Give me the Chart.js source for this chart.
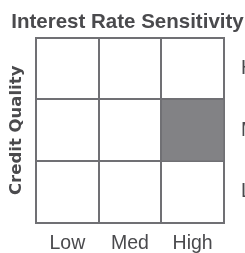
<!DOCTYPE html>
<html>
<head>
<meta charset="utf-8">
<script src="https://cdn.jsdelivr.net/npm/chart.js@4"></script>
<style>
  body { margin: 0; background: #fff; }
</style>
</head>
<body>
<canvas id="box" width="245" height="253"></canvas>
<script>
// style box: which row (0 = Low, 1 = Med, 2 = High credit quality) is filled in each column
const sensitivity = ['Low', 'Med', 'High'];
const quality = ['High', 'Med', 'Low'];
const filledRow = [null, null, 1];

const lineColor = '#707074';
const textColor = '#4a4a4d';
const font = "'Liberation Sans', Arial, sans-serif";

new Chart(document.getElementById('box').getContext('2d'), {
  type: 'bar',
  data: {
    labels: sensitivity,
    datasets: [{
      data: filledRow.map(r => r === null ? null : [r, r + 1]),
      backgroundColor: '#828285',
      borderColor: lineColor,
      borderWidth: 1,
      borderSkipped: false,
      barPercentage: 1,
      categoryPercentage: 1
    }]
  },
  options: {
    responsive: false,
    animation: false,
    layout: { padding: { left: 10 } },
    plugins: {
      legend: { display: false },
      tooltip: { enabled: false },
      title: {
        display: true,
        text: 'Interest Rate Sensitivity',
        color: textColor,
        font: { family: font, size: 20.5, weight: 'bold' },
        padding: { top: 10, bottom: 3 }
      }
    },
    scales: {
      x: {
        grid: { offset: true, drawTicks: false, color: lineColor, lineWidth: 2 },
        border: { color: lineColor, width: 2 },
        ticks: { color: textColor, font: { family: font, size: 19.5 }, padding: 9 },
        afterFit: s => { s.height = 30; }
      },
      y: {
        min: 0,
        max: 3,
        ticks: { stepSize: 1, display: false },
        grid: { drawTicks: false, color: lineColor, lineWidth: 2 },
        border: { color: lineColor, width: 2 },
        title: {
          display: true,
          text: 'Credit Quality',
          color: textColor,
          font: { family: "'DejaVu Sans', sans-serif", size: 16.5, weight: 'bold', lineHeight: 0.8 },
          padding: 0
        },
        afterFit: s => { s.width = 26; }
      },
      y2: {
        type: 'category',
        position: 'right',
        labels: quality,
        offset: true,
        grid: { display: false, drawTicks: false },
        border: { color: lineColor, width: 2 },
        ticks: { color: textColor, font: { family: font, size: 19.5 }, padding: 17 },
        afterFit: s => { s.width = 21; }
      }
    }
  }
});
</script>
</body>
</html>
